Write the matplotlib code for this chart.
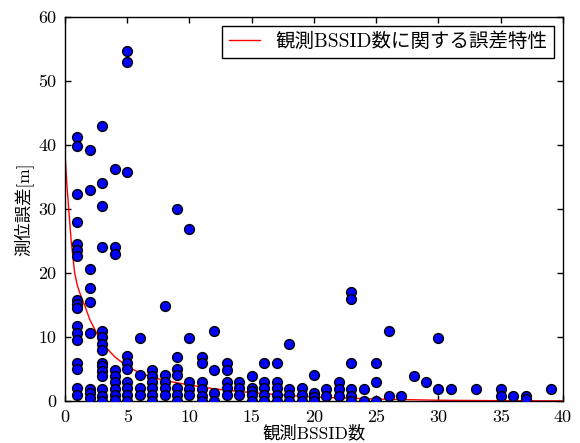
import matplotlib
matplotlib.use("Agg")
import matplotlib.pyplot as plt

plt.rcParams["font.family"] = ["cmr10", "Noto Sans CJK JP"]
plt.rcParams["axes.formatter.use_mathtext"] = False

# observed points: number of BSSIDs vs. positioning error [m]
n_bssid = [1]*17 + [2]*9 + [3]*15 + [4]*9 + [5]*10 + [6]*4 + [7]*6 + [8]*5 + \
    [9]*7 + [10]*5 + [11]*6 + [12]*4 + [13]*5 + [14]*3 + [15]*5 + [16]*5 + \
    [17]*5 + [18]*4 + [19]*3 + [20]*4 + [21]*2 + [22]*3 + [23]*6 + [24]*2 + \
    [25]*3 + [26]*2 + [27, 28, 29] + [30]*2 + [31, 33] + [35]*2 + [36] + [37]*2 + [39]
error_m = [41.2, 39.9, 32.3, 28.0, 24.5, 23.6, 22.7, 15.8, 15.2, 14.5, 11.7, 10.7, 9.6, 6.0, 5.0, 2.0, 0.9,
           39.2, 33.0, 20.7, 17.7, 15.4, 10.7, 1.9, 1.2, 0.5,
           43.0, 34.0, 30.5, 24.0, 11.0, 10.0, 8.9, 7.9, 6.0, 5.5, 4.7, 3.9, 1.9, 0.8, 0.0,
           36.2, 24.0, 23.0, 4.8, 3.9, 2.9, 1.9, 0.9, 0.1,
           54.7, 52.9, 35.8, 7.0, 6.0, 5.0, 2.9, 2.0, 0.9, 0.0,
           9.9, 4.0, 2.0, 0.9,
           4.8, 3.9, 2.9, 2.0, 0.9, 0.0,
           14.8, 4.0, 2.9, 2.0, 0.9,
           30.0, 6.8, 5.0, 4.0, 2.0, 0.9, 0.0,
           26.9, 9.9, 2.9, 1.9, 0.9,
           6.9, 5.9, 2.9, 1.9, 0.8, 0.0,
           10.9, 4.8, 1.3, 0.0,
           5.9, 4.9, 2.9, 2.0, 0.9,
           2.9, 2.0, 0.9,
           3.9, 2.0, 1.6, 0.9, 0.0,
           5.9, 2.9, 2.0, 0.9, 0.0,
           5.9, 2.9, 2.0, 0.9, 0.0,
           8.9, 1.9, 0.9, 0.0,
           2.0, 0.9, 0.0,
           4.0, 1.3, 0.7, 0.0,
           1.9, 0.8,
           2.9, 1.9, 0.8,
           17.0, 15.9, 5.9, 1.9, 0.8, 0.0,
           1.9, 0.0,
           5.9, 2.9, 0.0,
           10.9, 0.8,
           0.8, 3.9, 2.9,
           9.9, 1.9,
           1.9, 1.9,
           1.9, 0.8,
           0.8,
           0.8, 0.3,
           1.9]

# fitted error curve
curve_x = [0, 0.15, 0.3, 0.5, 0.78, 1.0, 1.3, 1.63, 2.0, 2.7, 3.0, 4, 5, 6, 7, 8,
           10, 12, 15, 18, 21, 25, 30, 35, 40]
curve_y = [38.8, 34.0, 30.0, 25.0, 20.0, 18.0, 16.3, 14.7, 12.7, 10.0, 9.0, 6.9, 5.4,
           4.4, 3.7, 3.2, 2.5, 1.9, 1.3, 0.85, 0.55, 0.3, 0.12, 0.05, 0.02]

fig = plt.figure(figsize=(5.8, 4.43), dpi=100)
ax = fig.add_axes([0.112, 0.0948, 0.8587, 0.8668])

ax.scatter(n_bssid, error_m, s=50, c="#0000ff", edgecolors="black",
           linewidths=1, zorder=3)
ax.plot(curve_x, curve_y, color="red", lw=1, label="観測BSSID数に関する誤差特性", zorder=2)

ax.set_xlim(0, 40)
ax.set_ylim(0, 60)
ax.set_xticks(range(0, 41, 5))
ax.set_yticks(range(0, 61, 10))
ax.tick_params(direction="in", top=True, right=True, length=4.5, width=1,
               labelsize=13, pad=6)
for s in ax.spines.values():
    s.set_linewidth(1)

ax.set_xlabel("観測BSSID数", fontsize=12.5, labelpad=0)
ax.set_ylabel("測位誤差[m]", fontsize=12.5, labelpad=4)

leg = ax.legend(loc="upper right", fontsize=14, fancybox=False, framealpha=1,
                edgecolor="black", borderaxespad=0.45, handlelength=1.6,
                borderpad=0.35)
leg.get_frame().set_linewidth(1)

fig.savefig("out.png", dpi=100)
